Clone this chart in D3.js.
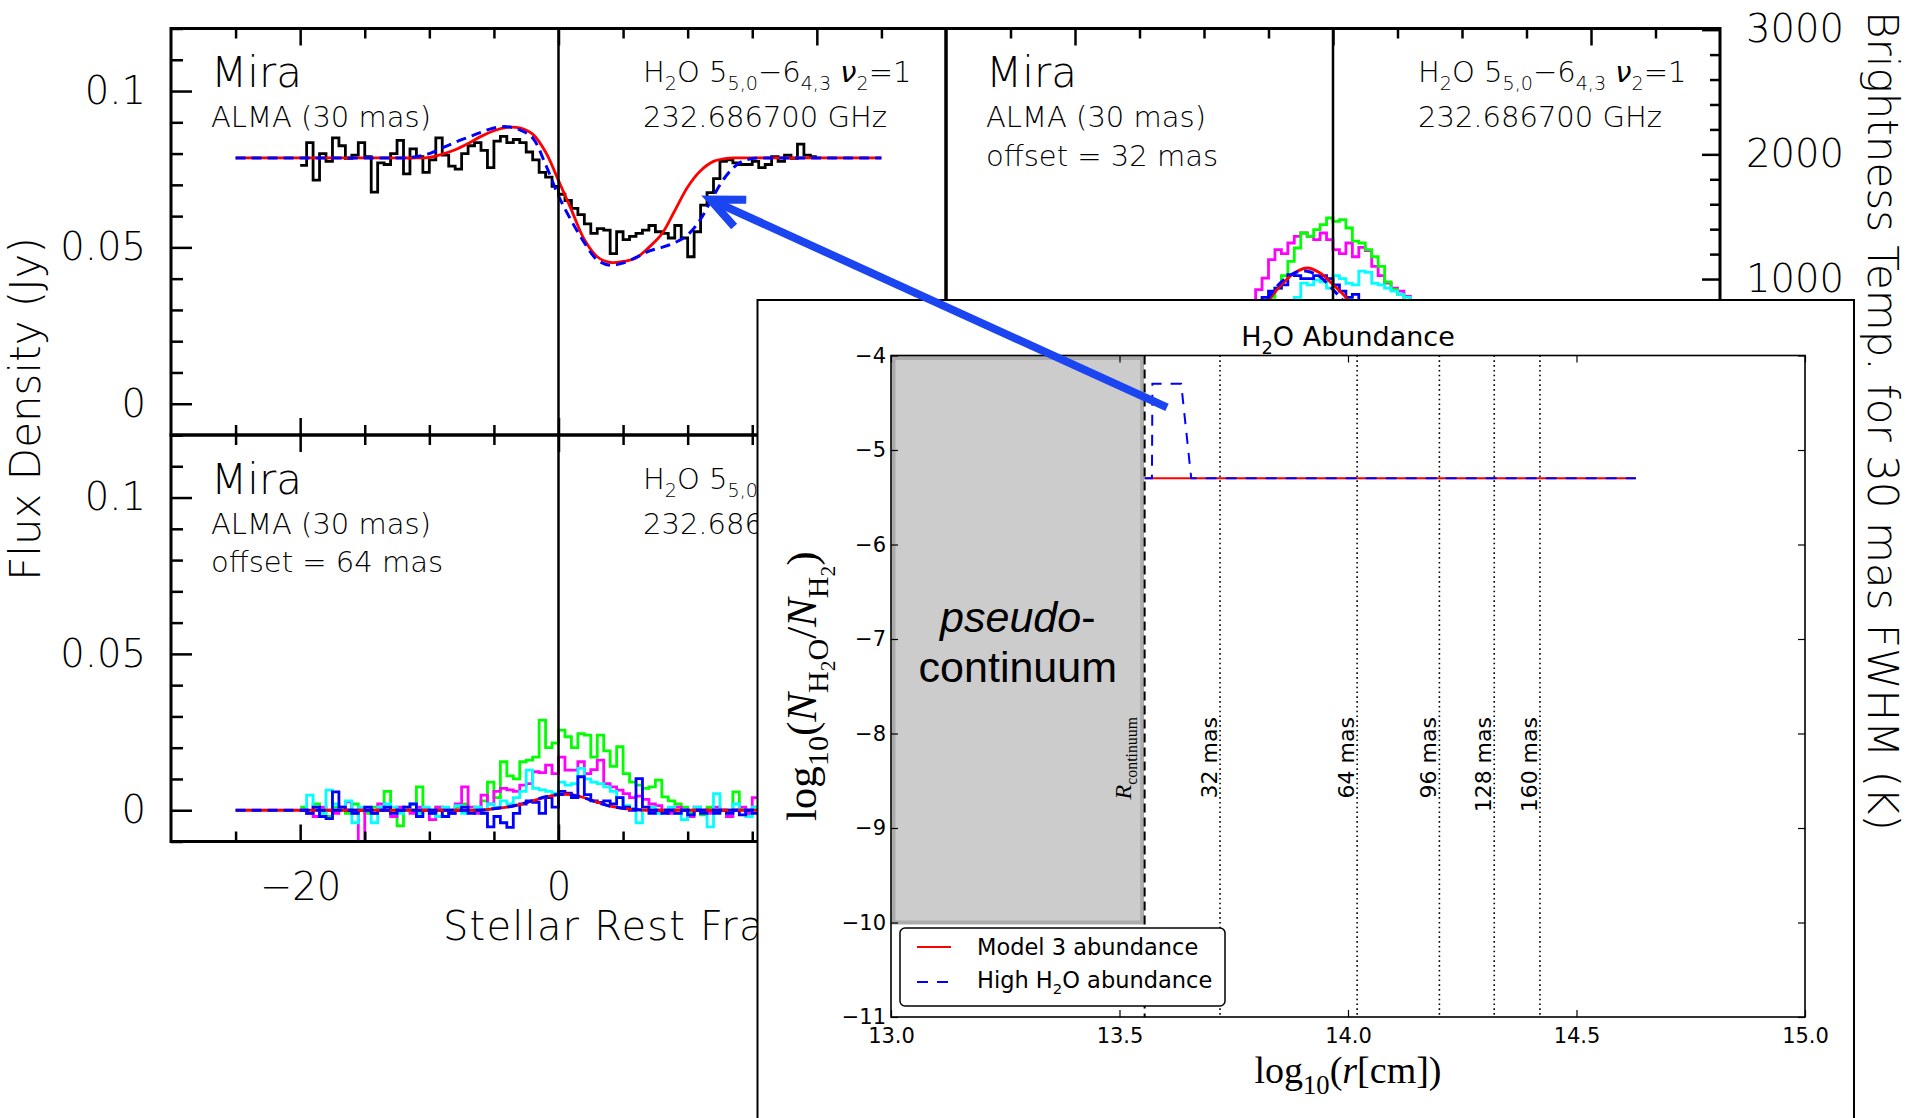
<!DOCTYPE html>
<html><head><meta charset="utf-8">
<script src="https://cdn.jsdelivr.net/npm/d3@7/dist/d3.min.js"></script>
<style>html,body{margin:0;padding:0;background:#fff;} svg{display:block;} text{white-space:pre;}</style>
</head><body>
<script>
// ---------------- DATA ----------------
// spectral channels (km/s): first channel edge and channel width
const chanStart = -20, chanWidth = 0.5;

// Observed spectrum toward the star centre (Jy), 80 channels
const obsCenter = [0.0762,0.0835,0.0715,0.0800,0.0775,0.0850,0.0825,0.0785,0.0795,0.0835,
  0.0790,0.0677,0.0770,0.0765,0.0800,0.0842,0.0735,0.0815,0.0790,0.0740,
  0.0780,0.0850,0.0795,0.0760,0.0750,0.0800,0.0825,0.0835,0.0810,0.0755,
  0.0840,0.0855,0.0835,0.0845,0.0835,0.0805,0.0780,0.0740,0.0725,0.0695,
  0.0670,0.0650,0.0625,0.0605,0.0575,0.0545,0.0560,0.0555,0.0480,0.0550,
  0.0525,0.0535,0.0545,0.0555,0.0570,0.0550,0.0545,0.0530,0.0570,0.0530,
  0.0470,0.0550,0.0635,0.0675,0.0720,0.0775,0.0780,0.0770,0.0765,0.0765,
  0.0775,0.0755,0.0765,0.0790,0.0775,0.0795,0.0785,0.0830,0.0795,0.0790];

// Offset = 32 mas spectra (Jy)
const obs32Green = [0.001,-0.001,0.002,0.000,-0.002,0.001,0.002,-0.001,0.000,0.001,
  -0.002,0.001,0.000,0.002,-0.001,0.001,0.000,-0.001,0.002,0.001,
  0.003,0.002,0.004,0.006,0.009,0.013,0.018,0.022,0.026,0.030,
  0.034,0.037,0.041,0.0455,0.0498,0.0546,0.0535,0.0557,0.0573,0.0594,
  0.0583,0.0589,0.0562,0.0520,0.0514,0.0493,0.0470,0.0439,0.0390,0.0365,
  0.0350,0.0310,0.0270,0.0220,0.0180,0.0140,0.0100,0.0070,0.0050,0.0030,
  0.002,0.000,0.001,-0.001,0.002,0.000,0.001,-0.002,0.000,0.001,
  0.002,-0.001,0.000,0.001,-0.001,0.002,0.000,-0.001,0.001,0.000];
const obs32Magenta = [0.000,0.002,-0.001,0.001,0.000,-0.002,0.001,0.002,0.000,-0.001,
  0.001,0.000,0.002,-0.001,0.001,0.002,0.000,0.003,0.002,0.004,
  0.005,0.007,0.009,0.012,0.016,0.022,0.028,0.032,0.0365,0.0402,
  0.0461,0.0493,0.0480,0.0514,0.0535,0.0546,0.0535,0.0525,0.0546,0.0525,
  0.0493,0.0480,0.0514,0.0470,0.0500,0.0490,0.0439,0.0410,0.0386,0.0370,
  0.0360,0.0343,0.0300,0.0250,0.0200,0.0150,0.0110,0.0070,0.0040,0.0020,
  0.001,-0.001,0.000,0.002,0.001,-0.001,0.000,0.001,0.002,0.000,
  -0.002,0.001,0.000,0.001,-0.001,0.000,0.002,0.001,-0.001,0.000];
const obs32Cyan = [0.001,0.000,-0.002,0.002,0.001,0.000,-0.001,0.002,0.000,0.001,
  -0.001,0.000,0.002,0.001,-0.002,0.000,0.001,0.002,0.000,0.003,
  0.002,0.004,0.005,0.007,0.009,0.011,0.014,0.017,0.020,0.023,
  0.026,0.028,0.031,0.033,0.034,0.0386,0.0380,0.0395,0.0390,0.0370,
  0.0410,0.0400,0.0385,0.0380,0.0424,0.0420,0.0385,0.0380,0.0370,0.0360,
  0.0350,0.0340,0.0300,0.0260,0.0210,0.0160,0.0120,0.0080,0.0050,0.0030,
  0.002,0.000,0.001,-0.001,0.000,0.002,0.001,-0.001,0.000,0.001,
  0.002,0.000,-0.001,0.001,0.000,-0.002,0.001,0.000,0.001,-0.001];
const obs32Blue = [0.000,0.001,-0.001,0.002,0.000,-0.002,0.001,0.000,0.002,-0.001,
  0.000,0.001,-0.001,0.002,0.000,0.001,0.003,0.002,0.004,0.006,
  0.007,0.009,0.011,0.014,0.017,0.021,0.024,0.028,0.031,0.034,
  0.036,0.037,0.038,0.0413,0.0410,0.0400,0.0400,0.0410,0.0410,0.0400,
  0.0380,0.0360,0.0340,0.0350,0.0330,0.0310,0.0280,0.0250,0.0210,0.0180,
  0.0140,0.0110,0.0080,0.0060,0.0040,0.0020,0.0010,0.0000,0.0010,-0.0010,
  0.000,0.001,-0.001,0.000,0.002,0.000,-0.001,0.001,0.000,-0.002,
  0.001,0.000,0.001,-0.001,0.000,0.002,0.000,-0.001,0.001,0.000];

// Offset = 64 mas spectra (Jy)
const obs64Green = [0.001,-0.001,0.002,0.000,-0.002,0.001,0.000,-0.001,0.002,0.000,
  -0.001,0.001,0.000,0.006,0.000,-0.005,0.001,0.000,0.0075,0.000,
  -0.001,0.001,-0.002,0.000,0.001,0.002,0.000,0.001,0.003,0.009,
  0.004,0.0155,0.011,0.010,0.0155,0.016,0.017,0.0288,0.020,0.0215,
  0.0256,0.0235,0.020,0.0245,0.024,0.017,0.024,0.019,0.014,0.0203,
  0.0117,0.009,0.008,0.007,0.0075,0.0096,0.0043,0.003,0.002,0.001,
  -0.001,0.0005,-0.0015,0.001,-0.0005,0.000,-0.001,0.0059,0.0005,-0.0015,
  0.001,0.000,0.001,-0.001,0.002,0.000,-0.001,0.001,0.000,-0.001];
const obs64Magenta = [0.000,-0.001,-0.002,0.001,0.000,-0.001,0.001,0.0027,-0.001,-0.0107,
  0.000,-0.001,0.002,0.000,-0.002,0.001,0.000,-0.001,0.001,0.000,
  -0.003,0.001,0.000,-0.001,0.002,0.0075,0.001,-0.001,0.0048,0.002,
  0.006,0.007,0.0065,0.006,0.008,0.0085,0.0123,0.012,0.0144,0.0117,
  0.017,0.0128,0.0128,0.0155,0.0117,0.013,0.016,0.0085,0.0075,0.0064,
  0.0053,0.004,0.0045,0.0035,0.002,0.0015,0.000,-0.001,0.001,0.000,
  -0.002,0.001,0.000,-0.001,0.001,0.000,-0.002,0.000,0.001,-0.001,
  0.004,0.000,-0.001,0.001,0.000,-0.001,0.002,0.000,-0.001,0.000];
const obs64Cyan = [0.000,0.0048,0.001,-0.001,0.0064,0.002,0.000,0.003,-0.004,0.001,
  0.000,-0.004,0.001,0.002,0.001,-0.001,0.000,0.002,-0.001,0.001,
  0.000,-0.002,0.001,0.000,0.0015,-0.001,0.000,0.001,-0.001,0.002,
  0.001,0.003,0.002,0.004,0.006,0.0128,0.007,0.0065,0.006,0.0055,
  0.009,0.008,0.0085,0.0134,0.010,0.009,0.0085,0.0075,0.006,0.004,
  0.0015,0.0005,-0.004,0.000,0.001,-0.001,0.000,0.001,-0.001,-0.003,
  0.000,0.001,-0.001,-0.0053,0.0053,0.000,-0.001,0.002,0.000,-0.002,
  0.001,0.004,-0.001,0.000,-0.005,0.001,0.002,0.000,-0.001,0.001];
const obs64Blue = [0.000,-0.001,0.001,-0.002,-0.0027,0.0059,0.001,0.000,-0.001,0.000,
  0.001,-0.001,0.000,0.001,-0.001,0.000,0.001,0.002,-0.002,0.000,
  -0.001,0.000,-0.002,-0.001,0.000,0.001,-0.001,0.000,-0.001,-0.0053,
  -0.002,-0.004,-0.0055,-0.001,0.002,0.003,0.0025,-0.001,0.004,0.001,
  0.006,0.0055,0.004,0.0107,0.005,0.003,0.0025,0.003,0.002,0.004,
  0.001,0.000,0.0101,0.001,-0.001,0.000,-0.001,0.000,-0.001,0.000,
  -0.0015,0.000,-0.001,0.000,-0.001,0.000,-0.001,0.000,-0.0015,0.000,
  -0.001,0.000,0.001,-0.001,0.000,0.001,-0.001,0.000,0.000,-0.001];

// Model spectra (Jy) sampled on a 1 km/s grid
const modelVel = [-25,-24,-23,-22,-21,-20,-19,-18,-17,-16,-15,-14,-13,-12,-11,-10,-9,-8,-7,-6,-5,-4,-3,-2,-1,
  0,1,2,3,4,5,6,7,8,9,10,11,12,13,14,15,16,17,18,19,20,21,22,23,24,25];
const model00Red = [0.0786,0.0786,0.0786,0.0786,0.0786,0.0786,0.0786,0.0786,0.0786,0.0786,0.0786,0.0786,0.0786,0.0786,0.0786,
  0.0788,0.0798,0.0812,0.0832,0.0855,0.0873,0.0884,0.0882,0.0862,0.0805,
  0.0714,0.0620,0.0525,0.0470,0.0452,0.0455,0.0466,0.0500,0.0543,0.0617,0.0693,0.0745,0.0775,0.0785,
  0.0786,0.0786,0.0786,0.0786,0.0786,0.0786,0.0786,0.0786,0.0786,0.0786,0.0786,0.0786];
const model00Blue = [0.0786,0.0786,0.0786,0.0786,0.0786,0.0786,0.0786,0.0786,0.0786,0.0786,0.0786,0.0786,0.0786,0.0786,
  0.0790,0.0800,0.0818,0.0836,0.0852,0.0868,0.0882,0.0886,0.0876,0.0850,0.0765,
  0.0665,0.0585,0.0515,0.0460,0.0443,0.0450,0.0468,0.0488,0.0500,0.0515,0.0540,0.0590,0.0665,0.0730,0.0770,0.0784,
  0.0786,0.0786,0.0786,0.0786,0.0786,0.0786,0.0786,0.0786,0.0786,0.0786];
const model32Red = [0,0,0,0,0,0,0,0,0,0,0,0,0,
  0.002,0.004,0.007,0.011,0.016,0.021,0.027,0.033,0.038,0.0418,0.0434,0.0418,
  0.0381,0.0340,0.029,0.023,0.017,0.012,0.008,0.005,0.003,0.0015,0.0005,
  0,0,0,0,0,0,0,0,0,0,0,0,0,0,0];
const model32Blue = [0,0,0,0,0,0,0,0,0,0,0,0,0,
  0.002,0.004,0.007,0.011,0.016,0.022,0.028,0.034,0.039,0.0418,0.0424,0.0405,
  0.0365,0.0320,0.027,0.021,0.016,0.011,0.007,0.004,0.002,0.001,
  0,0,0,0,0,0,0,0,0,0,0,0,0,0,0,0];
const model64Red = [0,0,0,0,0,0,0,0,0,0,0,0,0,0,0,0,0,0,0,0,
  0.0005,0.0010,0.0018,0.0030,0.0042,0.0050,0.0050,0.0040,0.0026,0.0013,0.0006,0.0002,
  0,0,0,0,0,0,0,0,0,0,0,0,0,0,0,0,0,0,0];
const model64Blue = [0,0,0,0,0,0,0,0,0,0,0,0,0,0,0,0,0,0,0,0,
  0.0005,0.0010,0.0019,0.0031,0.0043,0.0050,0.0049,0.0039,0.0025,0.0013,0.0006,0.0002,
  0,0,0,0,0,0,0,0,0,0,0,0,0,0,0,0,0,0,0];

// Axis ticks
const velMajorTicks = [-20, 0, 20];
const velMinorTicks = [-25, -15, -10, -5, 5, 10, 15, 25];
const fluxMajorTicks = [0, 0.05, 0.1];
const fluxMinorTicks = [-0.01, 0.01, 0.02, 0.03, 0.04, 0.06, 0.07, 0.08, 0.09, 0.11, 0.12];
const tempMajorTicks = [0, 1000, 2000, 3000];
const tempMinorTicks = [200, 400, 600, 800, 1200, 1400, 1600, 1800, 2200, 2400, 2600, 2800];
const lineFreqGHz = 232.6867, beamArcsec = 0.030;

// Inset: H2O abundance profile
const radiusModel3 = [13.555, 14.63];
const abundModel3 = [-5.3, -5.3];
const radiusHigh = [13.555, 13.571, 13.572, 13.635, 13.657, 14.63];
const abundHigh = [-5.3, -5.3, -4.3, -4.3, -5.3, -5.3];
const rContinuum = 13.555;
const offsetNames = ["32 mas", "64 mas", "96 mas", "128 mas", "160 mas"];
const offsetLogR = [13.72, 14.02, 14.20, 14.32, 14.42];
const insetXTicks = [13.0, 13.5, 14.0, 14.5, 15.0];
const insetYTicks = [-4, -5, -6, -7, -8, -9, -10, -11];
// arrow: from abundance bump to the spectral feature
const arrowFrom = {logr: 13.604, abund: -4.55};
const arrowTo = {vel: 11.75, flux: 0.0653};

// ---------------- DRAWING ----------------
const W = 1915, H = 1118;
const SANS = "'DejaVu Sans', sans-serif";
const THIN = 200; // weight for the IDL-style labels
const SERIF = "'Liberation Serif', 'DejaVu Serif', serif";
const svg = d3.select("body").append("svg").attr("width", W).attr("height", H);
svg.append("rect").attr("width", W).attr("height", H).attr("fill", "#fff");

function rich(parent, parts, x, y, size, family, subScale) {
  const sc = subScale || 0.66;
  const t = parent.append("text").attr("x", x).attr("y", y)
    .attr("font-size", size).attr("font-family", family).attr("fill", "#000");
  let cur = 0;
  for (const [s, kind] of parts) {
    let off = 0, fs = size;
    if (kind.includes("b")) { off = size * 0.28; fs = size * sc; }
    if (kind.includes("c")) { off = size * 0.45; fs = size * 0.5; }
    const ts = t.append("tspan").attr("dy", (off - cur).toFixed(2)).attr("font-size", fs).text(s);
    if (kind.includes("i")) ts.attr("font-style", "italic");
    cur = off;
  }
  return t;
}

const colX = [[171, 946], [946, 1720]];
const rowY = [[28.5, 435], [435, 841.5]];
const kPerJy = 1.222e6 / (lineFreqGHz * lineFreqGHz * beamArcsec * beamArcsec);

const panelSpecs = [
  {col: 0, row: 0, offset: null, obs: [[obsCenter, "#000000"]], red: model00Red, blue: model00Blue},
  {col: 1, row: 0, offset: "offset = 32 mas",
   obs: [[obs32Magenta, "#ff00ff"], [obs32Green, "#00ff00"], [obs32Cyan, "#00ffff"], [obs32Blue, "#0000ff"]],
   red: model32Red, blue: model32Blue},
  {col: 0, row: 1, offset: "offset = 64 mas",
   obs: [[obs64Green, "#00ff00"], [obs64Magenta, "#ff00ff"], [obs64Cyan, "#00ffff"], [obs64Blue, "#0000ff"]],
   red: model64Red, blue: model64Blue},
  {col: 1, row: 1, offset: null, obs: [], red: null, blue: null, empty: true}
];

const defs = svg.append("defs");
const scalesByPanel = [];
const h2oLabel = [["H",""],["2","b"],["O 5",""],["5,0","b"],["\u22126",""],["4,3","b"],[" ",""],["\u03bd","i"],["2","b"],["=1",""]];

panelSpecs.forEach((p, pi) => {
  const [x0, x1] = colX[p.col], [y0, y1] = rowY[p.row];
  const x = d3.scaleLinear([-30, 30], [x0, x1]);
  const y = d3.scaleLinear([-0.01, 0.12], [y1, y0]);
  scalesByPanel.push({x, y});
  const g = svg.append("g");
  defs.append("clipPath").attr("id", "clip" + pi).append("rect")
    .attr("x", x0).attr("y", y0).attr("width", x1 - x0).attr("height", y1 - y0);
  const data = g.append("g").attr("clip-path", `url(#clip${pi})`);

  const hist = d3.line().x(d => x(d[0])).y(d => y(d[1])).curve(d3.curveStepAfter);
  p.obs.forEach(([vals, col]) => {
    const pts = vals.map((f, i) => [chanStart + i * chanWidth, f]);
    pts.push([chanStart + vals.length * chanWidth, vals[vals.length - 1]]);
    data.append("path").attr("d", hist(pts)).attr("fill", "none").attr("stroke", col)
      .attr("stroke-width", 2.8).attr("stroke-linejoin", "miter");
  });
  const smooth = d3.line().x((d, i) => x(modelVel[i])).y(d => y(d)).curve(d3.curveCatmullRom);
  if (p.red) data.append("path").attr("d", smooth(p.red)).attr("fill", "none").attr("stroke", "#ff0000").attr("stroke-width", 2.8);
  if (p.blue) data.append("path").attr("d", smooth(p.blue)).attr("fill", "none").attr("stroke", "#0000ff")
      .attr("stroke-width", 3).attr("stroke-dasharray", "10,6");

  // zero-velocity line
  g.append("line").attr("x1", x(0)).attr("x2", x(0)).attr("y1", y0).attr("y2", y1).attr("stroke", "#000").attr("stroke-width", 2.5);

  // ticks
  const styleAx = a => { a.select(".domain").remove(); a.selectAll("line").attr("stroke", "#000").attr("stroke-width", 2.5);
    a.selectAll("text").attr("font-family", SANS).attr("font-weight", THIN).attr("font-size", 38.5).attr("fill", "#000"); a.attr("font-family", null).attr("font-size", null); };
  const velFmt = d => d < 0 ? "\u2212" + Math.abs(d) : String(d);
  g.append("g").attr("transform", `translate(0,${y0})`).call(d3.axisTop(x).tickValues(velMajorTicks).tickSize(-17).tickFormat("")).call(styleAx);
  g.append("g").attr("transform", `translate(0,${y0})`).call(d3.axisTop(x).tickValues(velMinorTicks).tickSize(-10).tickFormat("")).call(styleAx);
  g.append("g").attr("transform", `translate(0,${y1})`).call(d3.axisBottom(x).tickValues(velMajorTicks).tickSize(-17).tickPadding(31)
      .tickFormat(p.row === 1 ? velFmt : "")).call(styleAx);
  g.append("g").attr("transform", `translate(0,${y1})`).call(d3.axisBottom(x).tickValues(velMinorTicks).tickSize(-10).tickFormat("")).call(styleAx);
  if (p.col === 0) {
    g.append("g").attr("transform", `translate(${x0},0)`).call(d3.axisLeft(y).tickValues(fluxMajorTicks).tickSize(-21).tickPadding(25)
      .tickFormat(d => d === 0 ? "0" : String(d))).call(styleAx);
    g.append("g").attr("transform", `translate(${x0},0)`).call(d3.axisLeft(y).tickValues(fluxMinorTicks).tickSize(-12).tickFormat("")).call(styleAx);
  } else {
    const t = d3.scaleLinear([-0.01 * kPerJy, 0.12 * kPerJy], [y1, y0]);
    g.append("g").attr("transform", `translate(${x1},0)`).call(d3.axisRight(t).tickValues(tempMajorTicks).tickSize(-18).tickPadding(26)
      .tickFormat(d3.format("d"))).call(styleAx);
    g.append("g").attr("transform", `translate(${x1},0)`).call(d3.axisRight(t).tickValues(tempMinorTicks).tickSize(-10).tickFormat("")).call(styleAx);
  }
  g.append("rect").attr("x", x0).attr("y", y0).attr("width", x1 - x0).attr("height", y1 - y0)
    .attr("fill", "none").attr("stroke", "#000").attr("stroke-width", 3);

  if (!p.empty) {
    g.append("text").attr("x", x0 + 40).attr("y", y0 + 58.5).attr("font-family", SANS).attr("font-weight", THIN).attr("font-size", 42).text("Mira");
    g.append("text").attr("x", x0 + 40).attr("y", y0 + 98.5).attr("font-family", SANS).attr("font-weight", THIN).attr("font-size", 29).text("ALMA (30 mas)");
    if (p.offset) g.append("text").attr("x", x0 + 40).attr("y", y0 + 137).attr("font-family", SANS).attr("font-weight", THIN).attr("font-size", 29).text(p.offset);
    rich(g, h2oLabel, x0 + 472, y0 + 53.5, 29, SANS).attr("font-weight", THIN);
    g.append("text").attr("x", x0 + 472).attr("y", y0 + 98.5).attr("font-family", SANS).attr("font-weight", THIN).attr("font-size", 29).text("232.686700 GHz");
  }
});

// axis titles of the spectra figure
svg.append("text").attr("transform", "translate(40,409) rotate(-90)").attr("text-anchor", "middle")
  .attr("font-family", SANS).attr("font-weight", THIN).attr("font-size", 42).text("Flux Density (Jy)");
svg.append("text").attr("x", 443).attr("y", 940).attr("font-family", SANS).attr("font-weight", THIN).attr("font-size", 40)
  .attr("letter-spacing", 1.2).text("Stellar Rest Frame Velocity (km/s)");
svg.append("text").attr("transform", "translate(1868,421) rotate(90)").attr("text-anchor", "middle")
  .attr("font-family", SANS).attr("font-weight", THIN).attr("font-size", 42).text("Brightness Temp. for 30 mas FWHM (K)");

// ---------------- INSET ----------------
const ix = d3.scaleLinear([13, 15], [891, 1805]);
const iy = d3.scaleLinear([-11, -4], [1017, 355.5]);
const ins = svg.append("g");
ins.append("rect").attr("x", 757.5).attr("y", 300).attr("width", 1096.5).attr("height", 840)
  .attr("fill", "#fff").attr("stroke", "#000").attr("stroke-width", 2);
rich(ins, [["H",""],["2","b"],["O Abundance",""]], 1348, 346, 27, SANS).attr("text-anchor", "middle");

// pseudo-continuum region
ins.append("rect").attr("x", ix(13) + 2.5).attr("y", iy(-4) + 2.5)
  .attr("width", ix(rContinuum) - ix(13) - 5).attr("height", iy(-10) - iy(-4) - 2.5)
  .attr("fill", "#cccccc").attr("stroke", "#ababab").attr("stroke-width", 4);

// offset radii
offsetLogR.forEach((r, i) => {
  ins.append("line").attr("x1", ix(r)).attr("x2", ix(r)).attr("y1", iy(-4)).attr("y2", iy(-11))
    .attr("stroke", "#000").attr("stroke-width", 1.6).attr("stroke-dasharray", "1.6,3.2");
  ins.append("text").attr("transform", `translate(${ix(r) - 3},717) rotate(-90)`).attr("text-anchor", "end")
    .attr("font-family", SANS).attr("font-size", 22).text(offsetNames[i]);
});
ins.append("line").attr("x1", ix(rContinuum)).attr("x2", ix(rContinuum)).attr("y1", iy(-4)).attr("y2", iy(-11))
  .attr("stroke", "#000").attr("stroke-width", 2).attr("stroke-dasharray", "9,5");
rich(ins, [["R","i"],["continuum","b"]], 0, 0, 24, SERIF)
  .attr("text-anchor", "end").attr("transform", `translate(${ix(rContinuum) - 14},717) rotate(-90)`);

const aLine = d3.line().x(d => ix(d[0])).y(d => iy(d[1]));
ins.append("path").attr("d", aLine(radiusModel3.map((r, i) => [r, abundModel3[i]])))
  .attr("fill", "none").attr("stroke", "#ff0000").attr("stroke-width", 2);
ins.append("path").attr("d", aLine(radiusHigh.map((r, i) => [r, abundHigh[i]])))
  .attr("fill", "none").attr("stroke", "#0000ff").attr("stroke-width", 2).attr("stroke-dasharray", "11,9");

// inset axes
const styleIn = a => { a.select(".domain").remove(); a.selectAll("line").attr("stroke", "#000").attr("stroke-width", 1.2);
  a.selectAll("text").attr("font-family", SANS).attr("font-size", 21).attr("fill", "#000"); a.attr("font-family", null).attr("font-size", null); };
ins.append("g").attr("transform", `translate(0,${iy(-11)})`).call(d3.axisBottom(ix).tickValues(insetXTicks).tickSize(-7).tickPadding(11).tickFormat(d3.format(".1f"))).call(styleIn);
ins.append("g").attr("transform", `translate(0,${iy(-4)})`).call(d3.axisTop(ix).tickValues(insetXTicks).tickSize(-7).tickFormat("")).call(styleIn);
ins.append("g").attr("transform", `translate(${ix(13)},0)`).call(d3.axisLeft(iy).tickValues(insetYTicks).tickSize(-7).tickPadding(5)
  .tickFormat(d => "\u2212" + Math.abs(d))).call(styleIn);
ins.append("g").attr("transform", `translate(${ix(15)},0)`).call(d3.axisRight(iy).tickValues(insetYTicks).tickSize(-7).tickFormat("")).call(styleIn);
ins.append("rect").attr("x", ix(13)).attr("y", iy(-4)).attr("width", ix(15) - ix(13)).attr("height", iy(-11) - iy(-4))
  .attr("fill", "none").attr("stroke", "#000").attr("stroke-width", 1.6);

// inset axis labels (math style)
rich(ins, [["log",""],["10","b"],["(",""],["r","i"],["[cm])",""]], 1348, 1083, 38, SERIF, 0.7).attr("text-anchor", "middle");
rich(ins, [["log",""],["10","b"],["(",""],["N","i"],["H","b"],["2","c"],["O","b"],["/",""],["N","i"],["H","b"],["2","c"],[")",""]],
  0, 0, 43, SERIF, 0.7).attr("text-anchor", "middle").attr("transform", `translate(816,${(iy(-4) + iy(-11)) / 2}) rotate(-90)`);

// pseudo-continuum label
const pcx = (ix(13) + ix(rContinuum)) / 2;
const pt = ins.append("text").attr("x", pcx).attr("y", 632).attr("text-anchor", "middle")
  .attr("font-family", "'Liberation Sans', Arial, sans-serif").attr("font-size", 43);
pt.append("tspan").attr("font-style", "italic").text("pseudo");
pt.append("tspan").text("-");
ins.append("text").attr("x", pcx).attr("y", 682).attr("text-anchor", "middle")
  .attr("font-family", "'Liberation Sans', Arial, sans-serif").attr("font-size", 43).text("continuum");

// legend
const lg = ins.append("g");
lg.append("rect").attr("x", 900).attr("y", 928).attr("width", 325).attr("height", 78).attr("rx", 5)
  .attr("fill", "#fff").attr("stroke", "#000").attr("stroke-width", 1.5);
lg.append("line").attr("x1", 917).attr("x2", 951).attr("y1", 947).attr("y2", 947).attr("stroke", "#ff0000").attr("stroke-width", 2);
lg.append("line").attr("x1", 917).attr("x2", 951).attr("y1", 982).attr("y2", 982).attr("stroke", "#0000ff").attr("stroke-width", 2).attr("stroke-dasharray", "11,9");
lg.append("text").attr("x", 977).attr("y", 955).attr("font-family", SANS).attr("font-size", 22.5).text("Model 3 abundance");
rich(lg, [["High H",""],["2","b"],["O abundance",""]], 977, 988, 22.5, SANS);

// ---------------- ARROW ----------------
const sTL = scalesByPanel[0];
const ax1 = ix(arrowFrom.logr), ay1 = iy(arrowFrom.abund);
const ax2 = sTL.x(arrowTo.vel), ay2 = sTL.y(arrowTo.flux);
const ang = Math.atan2(ay1 - ay2, ax1 - ax2);
const headLen = 36, headAng = 24 * Math.PI / 180;
const arrowCol = "#1a45f0";
svg.append("line").attr("x1", ax1).attr("y1", ay1).attr("x2", ax2 + 6 * Math.cos(ang)).attr("y2", ay2 + 6 * Math.sin(ang))
  .attr("stroke", arrowCol).attr("stroke-width", 8);
svg.append("path").attr("d", `M${ax2 + headLen * Math.cos(ang - headAng)},${ay2 + headLen * Math.sin(ang - headAng)}L${ax2},${ay2}L${ax2 + headLen * Math.cos(ang + headAng)},${ay2 + headLen * Math.sin(ang + headAng)}`)
  .attr("fill", "none").attr("stroke", arrowCol).attr("stroke-width", 8).attr("stroke-linejoin", "miter");
</script>
</body></html>
